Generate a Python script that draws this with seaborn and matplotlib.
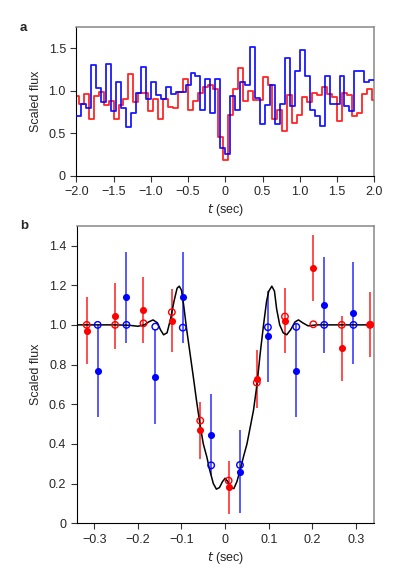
import matplotlib
matplotlib.use('Agg')
import matplotlib.pyplot as plt
import numpy as np
import pandas as pd
import seaborn as sns

# Panel a: binned light curves (blue bins start at -2, red bins centred on 0)
blue_flux = [0.70, 0.85, 0.80, 1.30, 1.03, 0.87, 1.32, 0.76, 1.10, 0.80,
             0.57, 0.74, 0.97, 1.28, 0.90, 1.11, 0.95, 0.91, 1.05, 0.96,
             0.99, 0.99, 1.07, 1.21, 1.17, 0.77, 1.14, 0.74, 1.14, 0.33,
             0.26, 0.94, 0.77, 1.10, 1.07, 1.52, 0.92, 0.61, 0.83, 1.07,
             0.61, 0.84, 1.39, 0.82, 1.24, 1.48, 1.18, 0.78, 0.70, 0.58,
             1.18, 0.85, 0.85, 1.17, 0.82, 0.76, 1.24, 1.23, 1.11, 1.13]
red_flux = [0.94, 0.85, 0.96, 0.67, 0.94, 0.99, 0.83, 0.88, 0.67, 0.83,
            0.91, 1.20, 0.87, 0.97, 0.97, 0.76, 0.90, 0.67, 0.91, 0.81,
            0.80, 0.99, 1.14, 0.78, 0.88, 0.97, 1.04, 1.07, 1.02, 0.46,
            0.18, 0.72, 1.02, 1.27, 0.88, 1.00, 0.89, 0.89, 1.16, 1.07,
            0.67, 0.78, 0.53, 0.95, 0.62, 0.72, 0.93, 0.87, 0.97, 0.95,
            1.04, 0.96, 0.93, 0.64, 0.97, 0.95, 0.70, 0.74, 0.96, 1.02, 0.89]
blue_edges = np.linspace(-2.0, 2.0, len(blue_flux) + 1)
red_edges = np.linspace(-2.0 - 1 / 30, 2.0 + 1 / 30, len(red_flux) + 1)

# Panel b: folded points, model values (open) and smooth model curve
red_t = [-0.317, -0.252, -0.187, -0.122, -0.057, 0.008, 0.0725, 0.137, 0.202, 0.267, 0.332]
red_obs = [0.971, 1.045, 1.076, 1.022, 0.469, 0.181, 0.728, 1.022, 1.286, 0.882, 1.003]
red_err = [0.168, 0.168, 0.165, 0.160, 0.144, 0.134, 0.145, 0.164, 0.168, 0.165, 0.164]
red_model = [1.0, 1.0, 1.008, 1.064, 0.517, 0.215, 0.709, 1.042, 1.003, 1.0, 1.0]

blue_t = [-0.292, -0.226, -0.160, -0.097, -0.032, 0.034, 0.098, 0.163, 0.227, 0.294]
blue_obs = [0.768, 1.138, 0.739, 1.138, 0.447, 0.260, 0.943, 0.770, 1.101, 1.059]
blue_err = [0.230, 0.227, 0.240, 0.229, 0.205, 0.210, 0.229, 0.235, 0.242, 0.257]
blue_model = [1.0, 1.0, 0.991, 0.986, 0.292, 0.294, 0.988, 0.990, 1.0, 1.0]

curve_t = [-0.34, -0.25, -0.22, -0.20, -0.185, -0.175, -0.165, -0.155, -0.148, -0.141,
           -0.133, -0.125, -0.117, -0.110, -0.105, -0.100, -0.095, -0.088, -0.080, -0.073,
           -0.065, -0.057, -0.050, -0.042, -0.035, -0.027, -0.020, -0.013, -0.006, 0.0,
           0.006, 0.013, 0.020, 0.027, 0.034, 0.042, 0.050, 0.058, 0.065, 0.073,
           0.080, 0.088, 0.095, 0.100, 0.107, 0.113, 0.118, 0.125, 0.133, 0.141,
           0.150, 0.160, 0.168, 0.178, 0.19, 0.21, 0.25, 0.34]
curve_v = [1.0, 1.0, 0.998, 0.993, 1.0, 1.015, 1.025, 1.01, 0.975, 0.95,
           0.96, 1.03, 1.12, 1.185, 1.195, 1.175, 1.10, 0.975, 0.85, 0.74,
           0.61, 0.49, 0.40, 0.335, 0.265, 0.20, 0.172, 0.18, 0.21, 0.227,
           0.21, 0.178, 0.175, 0.21, 0.265, 0.335, 0.40, 0.49, 0.57, 0.70,
           0.85, 1.0, 1.12, 1.17, 1.195, 1.17, 1.08, 1.0, 0.96, 0.95,
           0.975, 1.015, 1.025, 1.01, 0.995, 1.0, 1.0, 1.0]

RED = '#ff0000'
BLUE = '#0000ff'

sns.set_style('ticks')
plt.rcParams['font.family'] = ['Liberation Sans', 'DejaVu Sans']
plt.rcParams['axes.unicode_minus'] = True
plt.rcParams['font.size'] = 9

fig = plt.figure(figsize=(3.98, 5.8), dpi=100)
ax_a = fig.add_axes([0.1917, 0.6971, 0.7487, 0.2559])
ax_b = fig.add_axes([0.1927, 0.0978, 0.7470, 0.5131])

# --- panel a
df_blue = pd.DataFrame({'t': blue_edges, 'flux': blue_flux + blue_flux[-1:]})
df_red = pd.DataFrame({'t': red_edges, 'flux': red_flux + red_flux[-1:]})
sns.lineplot(data=df_red, x='t', y='flux', ax=ax_a, color=RED, lw=1.3,
             alpha=0.85, drawstyle='steps-post', sort=False, zorder=2)
sns.lineplot(data=df_blue, x='t', y='flux', ax=ax_a, color=BLUE, lw=1.3,
             alpha=0.9, drawstyle='steps-post', sort=False, zorder=3)
ax_a.set_xlim(-2.0, 2.0)
ax_a.set_ylim(0, 1.75)
ax_a.set_xticks(np.arange(-2.0, 2.01, 0.5))
ax_a.set_xticklabels([f'{v:.1f}'.replace('-', '\u2212') if abs(v) > 1e-9 else '0'
                      for v in np.arange(-2.0, 2.01, 0.5)])
ax_a.set_yticks([0, 0.5, 1.0, 1.5])
ax_a.set_yticklabels(['0', '0.5', '1.0', '1.5'])

# --- panel b
ax_b.errorbar(red_t, red_obs, yerr=red_err, fmt='none', ecolor=RED,
              elinewidth=1.3, alpha=0.75, zorder=2)
ax_b.errorbar(blue_t, blue_obs, yerr=blue_err, fmt='none', ecolor=BLUE,
              elinewidth=1.3, alpha=0.7, zorder=2)
df_curve = pd.DataFrame({'t': curve_t, 'v': curve_v})
sns.lineplot(data=df_curve, x='t', y='v', ax=ax_b, color='black', lw=1.1,
             sort=False, zorder=3)

df_red_b = pd.DataFrame({'t': red_t, 'obs': red_obs, 'model': red_model})
df_blue_b = pd.DataFrame({'t': blue_t, 'obs': blue_obs, 'model': blue_model})
for d, c in [(df_red_b, RED), (df_blue_b, BLUE)]:
    sns.scatterplot(data=d, x='t', y='model', ax=ax_b, s=22, facecolor='none',
                    edgecolor=c, linewidth=1.0, zorder=4)
    sns.scatterplot(data=d, x='t', y='obs', ax=ax_b, s=26, color=c,
                    edgecolor=c, linewidth=0, zorder=5)

ax_b.set_xlim(-0.34, 0.341)
ax_b.set_ylim(0, 1.5)
xt = [-0.3, -0.2, -0.1, 0.0, 0.1, 0.2, 0.3]
ax_b.set_xticks(xt)
ax_b.set_xticklabels([f'{v:.1f}'.replace('-', '\u2212') if v != 0 else '0' for v in xt])
yt = [0, 0.2, 0.4, 0.6, 0.8, 1.0, 1.2, 1.4]
ax_b.set_yticks(yt)
ax_b.set_yticklabels(['0'] + [f'{v:.1f}' for v in yt[1:]])

for ax in (ax_a, ax_b):
    ax.set_xlabel('$\\it{t}$ (sec)', fontsize=9, labelpad=3)
    ax.set_ylabel('Scaled flux', fontsize=9, labelpad=5)
    ax.tick_params(direction='out', length=4, width=0.8, labelsize=9,
                   color='#333333', pad=3.5)
    for side in ('left', 'bottom'):
        ax.spines[side].set_color('black')
        ax.spines[side].set_linewidth(0.8)
    for side in ('top', 'right'):
        ax.spines[side].set_visible(True)
        ax.spines[side].set_color('#888888')
        ax.spines[side].set_linewidth(1.1)

fig.text(20 / 398, 1 - 28 / 580, 'a', fontsize=9.5, fontweight='bold', va='center')
fig.text(20 / 398, 1 - 226 / 580, 'b', fontsize=9.5, fontweight='bold', va='center')

fig.savefig('out.png', dpi=100)
